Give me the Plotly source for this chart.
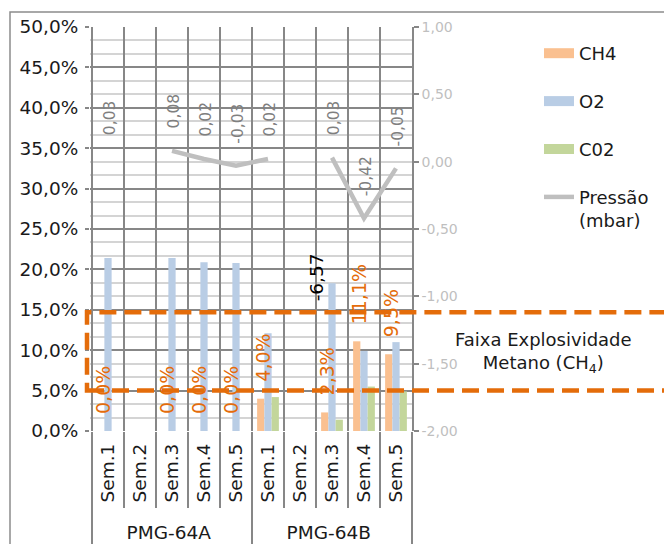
import plotly.graph_objects as go

# ---------------- data ----------------
groups = ["PMG-64A"] * 5 + ["PMG-64B"] * 5
weeks = ["\u00a0\u2009Sem.1", "\u00a0\u2009Sem.2", "\u00a0\u2009Sem.3", "\u00a0\u2009Sem.4",
         "\u00a0\u2009Sem.5"] * 2
ch4 = [0.0, None, 0.0, 0.0, 0.0, 0.040, None, 0.023, 0.111, 0.095]
o2 = [0.214, None, 0.214, 0.209, 0.208, 0.121, None, 0.183, 0.099, 0.110]
co2 = [0.0, None, 0.0, 0.0, 0.0, 0.042, None, 0.014, 0.055, 0.049]
pressure = [0.03, None, 0.08, 0.02, -0.03, 0.02, None, 0.03, -0.42, -0.05]
extra_label = "-6,57"

left_tickvals = [0, 0.05, 0.10, 0.15, 0.20, 0.25, 0.30, 0.35, 0.40, 0.45, 0.50]
left_ticktext = ["0,0%", "5,0%", "10,0%", "15,0%", "20,0%", "25,0%", "30,0%",
                 "35,0%", "40,0%", "45,0%", "50,0%"]
right_tickvals = [1.0, 0.5, 0.0, -0.5, -1.0, -1.5, -2.0]
right_ticktext = ["1,00", "0,50", "0,00", "-0,50", "-1,00", "-1,50", "-2,00"]

band_low, band_high = 0.05, 0.147

# ---------------- style ----------------
FONT = "DejaVu Sans"
C_CH4 = "#FAC090"
C_O2 = "#B9CDE5"
C_CO2 = "#C3D69B"
C_P = "#BFBFBF"
C_ORANGE = "#E46C0A"
GRID = "#878787"
MINOR = "#D4D4D4"

x = [groups, weeks]
fig = go.Figure()

for name, vals, col in [("CH4", ch4, C_CH4), ("O2", o2, C_O2), ("C02", co2, C_CO2)]:
    fig.add_trace(go.Bar(x=x, y=vals, name=name, marker=dict(color=col, line=dict(width=0)),
                         showlegend=False))

for i, (name, col) in enumerate([("CH4", C_CH4), ("O2", C_O2), ("C02", C_CO2)]):
    fig.add_trace(go.Scatter(x=[[groups[0]], [weeks[0]]], y=[None], mode="lines",
                             line=dict(color=col, width=10), name=name,
                             legendgroup=name, legendrank=i + 1))

fig.add_trace(go.Scatter(x=x, y=pressure, yaxis="y2", mode="lines", name="Pressão<br>(mbar)",
                         line=dict(color=C_P, width=4.5), connectgaps=False,
                         legendgroup="p", legendrank=4))

L, R, T, B = 90, 252, 27, 113
pw = 664 - L - R
ph = 544 - T - B


def px_x(p):
    return (p - L) / pw


def px_y(p):
    return (544 - B - p) / ph


annotations = []
for i, v in enumerate(ch4):
    if v is None:
        continue
    annotations.append(dict(x=i, y=v, xref="x", yref="y", text=f"{v*100:.1f}%".replace(".", ","),
                            textangle=-90, showarrow=False, yanchor="bottom", xanchor="center",
                            yshift=15, xshift=-5, font=dict(family=FONT, size=19, color=C_ORANGE)))
for i, v in enumerate(pressure):
    if v is None:
        continue
    annotations.append(dict(x=i, y=v, xref="x", yref="y2", text=f"{v:.2f}".replace(".", ","),
                            textangle=-90, showarrow=False, yanchor="bottom", xanchor="center",
                            yshift=20, xshift=2, font=dict(family=FONT, size=15.5, color="#7F7F7F")))
annotations.append(dict(x=6.5, y=0.158, xref="x", yref="y", text=extra_label, textangle=-90,
                        showarrow=False, yanchor="bottom", xanchor="center",
                        font=dict(family=FONT, size=18.5, color="#000000")))
annotations.append(dict(x=px_x(543), y=px_y(352), xref="paper", yref="paper",
                        text="Faixa Explosividade<br>Metano (CH<sub>4</sub>)", showarrow=False,
                        xanchor="center", yanchor="middle",
                        font=dict(family=FONT, size=18, color="#1A1A1A")))

shapes = [
    dict(type="rect", xref="paper", yref="y", x0=px_x(87), x1=px_x(700), y0=band_low, y1=band_high,
         line=dict(color=C_ORANGE, width=4.5, dash="17px,8px"), layer="above"),
    dict(type="rect", xref="paper", yref="paper", x0=px_x(10), x1=px_x(720), y0=px_y(600), y1=px_y(12),
         line=dict(color="#8C8C8C", width=1.5), layer="above"),
]

fig.update_layout(
    width=664, height=544,
    margin=dict(l=L, r=R, t=T, b=B, autoexpand=False),
    paper_bgcolor="white", plot_bgcolor="white",
    barmode="group", bargap=0.32, bargroupgap=0,
    font=dict(family=FONT, size=18, color="#262626"),
    showlegend=True,
    legend=dict(xref="container", yref="container", x=539 / 664, y=1 - 35 / 544,
                xanchor="left", yanchor="top", font=dict(family=FONT, size=18, color="#1A1A1A"),
                tracegroupgap=21.5, valign="top", bgcolor="rgba(0,0,0,0)"),
    xaxis=dict(type="multicategory", tickson="boundaries", showgrid=True, gridcolor=GRID,
               gridwidth=1.5, ticks="outside", ticklen=76, tickcolor=GRID, tickwidth=1.5,
               tickangle=-90, showdividers=True, dividercolor=GRID, dividerwidth=1.5,
               ticklabelstandoff=8,
               tickfont=dict(family=FONT, size=18.5, color="#1A1A1A"), zeroline=False,
               showline=False),
    yaxis=dict(range=[0, 0.5], tickvals=left_tickvals, ticktext=left_ticktext, showgrid=True,
               gridcolor=GRID, gridwidth=1.5, ticks="outside", ticklen=4, tickcolor=GRID,
               tickwidth=1.5, zeroline=False, showline=False, ticklabelstandoff=3,
               tickfont=dict(family=FONT, size=18.5, color="#1A1A1A"),
               minor=dict(tick0=0, dtick=0.05 / 3, showgrid=True, gridcolor=MINOR, gridwidth=1.5,
                          ticks="")),
    yaxis2=dict(overlaying="y", side="right", range=[-2, 1], tickvals=right_tickvals,
                ticktext=right_ticktext, showgrid=False, zeroline=False, showline=True,
                linecolor=GRID, linewidth=1.5, ticks="outside", ticklen=5, tickcolor=GRID,
                tickwidth=1.5, tickfont=dict(family=FONT, size=14, color="#BFBFBF")),
    annotations=annotations,
    shapes=shapes,
)

fig.write_html("out.html", config={"displayModeBar": False},
               post_script="document.body.style.margin='0px';")
